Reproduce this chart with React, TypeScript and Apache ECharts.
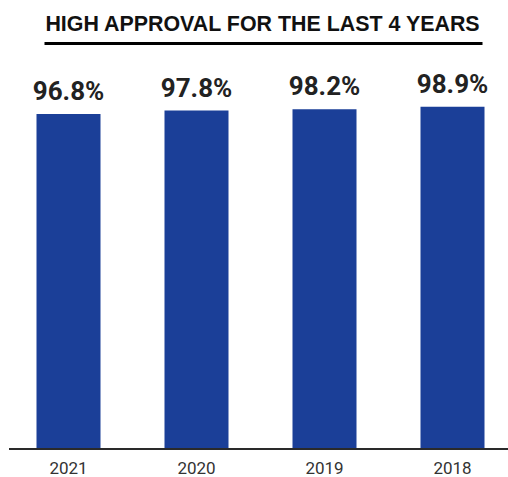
import React, { useEffect, useRef } from "react";
import * as echarts from "echarts";

const years = ["2021", "2020", "2019", "2018"];
const approval = [96.8, 97.8, 98.2, 98.9];
const titleText = "HIGH APPROVAL FOR THE LAST 4 YEARS";

export default function App() {
  const ref = useRef<HTMLDivElement>(null);
  useEffect(() => {
    if (!ref.current) return;
    const chart = echarts.init(ref.current, undefined, { renderer: "svg" });
    chart.setOption({
      animation: false,
      backgroundColor: "#ffffff",
      grid: {
        left: 4.5,
        top: 103,
        width: 512,
        height: 346,
        outerBoundsMode: "none",
        containLabel: false,
      },
      xAxis: {
        type: "category",
        data: years,
        axisLine: { show: false },
        axisTick: { show: false },
        axisLabel: {
          fontSize: 17,
          lineHeight: 14,
          color: "#333",
          fontFamily: "Roboto",
          margin: 12,
        },
      },
      yAxis: {
        type: "value",
        min: 0,
        max: 100,
        show: false,
        splitLine: { show: false },
      },
      series: [
        {
          type: "bar",
          data: approval,
          barWidth: 64,
          itemStyle: { color: "#1b3f98" },
          label: {
            show: true,
            position: "top",
            distance: 10,
            formatter: "{c}%",
            fontSize: 26,
            fontWeight: "bold",
            fontFamily: "Roboto",
            color: "#222",
          },
        },
      ],
      graphic: [
        {
          type: "text",
          x: 262.5,
          y: 23.5,
          style: {
            text: titleText,
            fontSize: 21.4,
            fontWeight: "bold",
            fontFamily: "Liberation Sans",
            fill: "#111",
            textAlign: "center",
            textVerticalAlign: "middle",
          },
        },
        {
          type: "line",
          shape: { x1: 44.5, y1: 43.5, x2: 482.5, y2: 43.5 },
          style: { stroke: "#000", lineWidth: 3 },
        },
        {
          type: "line",
          shape: { x1: 9, y1: 449, x2: 508, y2: 449 },
          style: { stroke: "#2a2a2a", lineWidth: 2 },
          z: 10,
        },
      ],
    });
    return () => chart.dispose();
  }, []);
  return (
    <div
      ref={ref}
      style={{ position: "fixed", left: 0, top: 0, width: 508, height: 477 }}
    />
  );
}
